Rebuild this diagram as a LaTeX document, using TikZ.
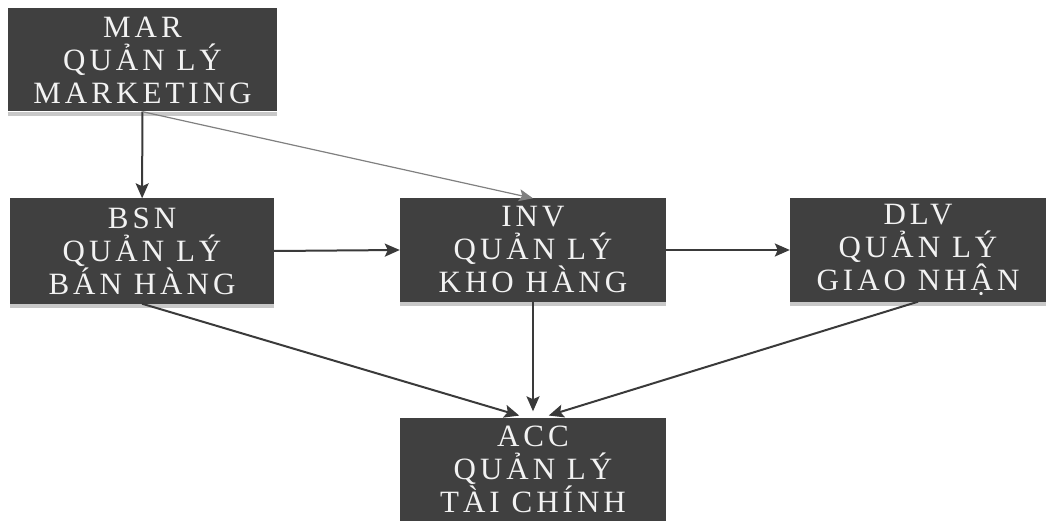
\documentclass[tikz,border=0pt]{standalone}
\usepackage{fontspec}
\setmainfont{Liberation Serif}[LetterSpace=13]
\usetikzlibrary{arrows.meta}
\definecolor{boxgray}{HTML}{404040}
\definecolor{linegray}{HTML}{3A3A3A}
\definecolor{shadowgray}{HTML}{C8C8C8}
\newcommand{\qly}{QUA\char"0309 N LÝ}
\begin{document}
\begin{tikzpicture}[x=1pt,y=-1pt,
  box/.style={fill=boxgray, inner sep=0pt, align=center, text=gray!10,
    font=\fontsize{31}{33}\selectfont, minimum height=103pt},
  arr/.style={draw=linegray, line width=2pt, -{Stealth[length=15pt,width=13pt,inset=3pt]}},
  thinarr/.style={draw=gray, line width=1.2pt, -{Stealth[length=14pt,width=12pt,inset=3pt]}},
  shadow/.style={fill=shadowgray}]
\useasboundingbox (0,0) rectangle (1049,521);
\node[box, minimum width=269pt] (mar) at (142.5,60) {MAR\\\qly\\MARKETING};
\node[box, minimum width=264pt, minimum height=105pt] (bsn) at (142,251) {BSN\\\qly\\BÁN HÀNG};
\node[box, minimum width=266pt] (inv) at (533,250) {INV\\\qly\\KHO HÀNG};
\node[box, minimum width=256pt] (dlv) at (918,250) {DLV\\\qly\\GIAO NHẬN};
\node[box, minimum width=266pt] (acc) at (533,469) {ACC\\\qly\\TÀI CHÍNH};
\foreach \n in {mar,bsn,inv,dlv,acc}
  \fill[shadow] (\n.south west) rectangle ([yshift=-4pt]\n.south east);
\draw[arr] (mar) -- (bsn);
\draw[thinarr] (mar.south) -- (inv.north);
\draw[arr] (bsn.east) -- (inv.west);
\draw[arr] (inv.east) -- (dlv.west);
\draw[arr, shorten >=6pt] (bsn.south) -- ([xshift=-8pt]acc.north);
\draw[arr, shorten >=6pt] (inv.south) -- (acc.north);
\draw[arr, shorten >=6pt] (dlv.south) -- ([xshift=10pt]acc.north);
\end{tikzpicture}
\end{document}
